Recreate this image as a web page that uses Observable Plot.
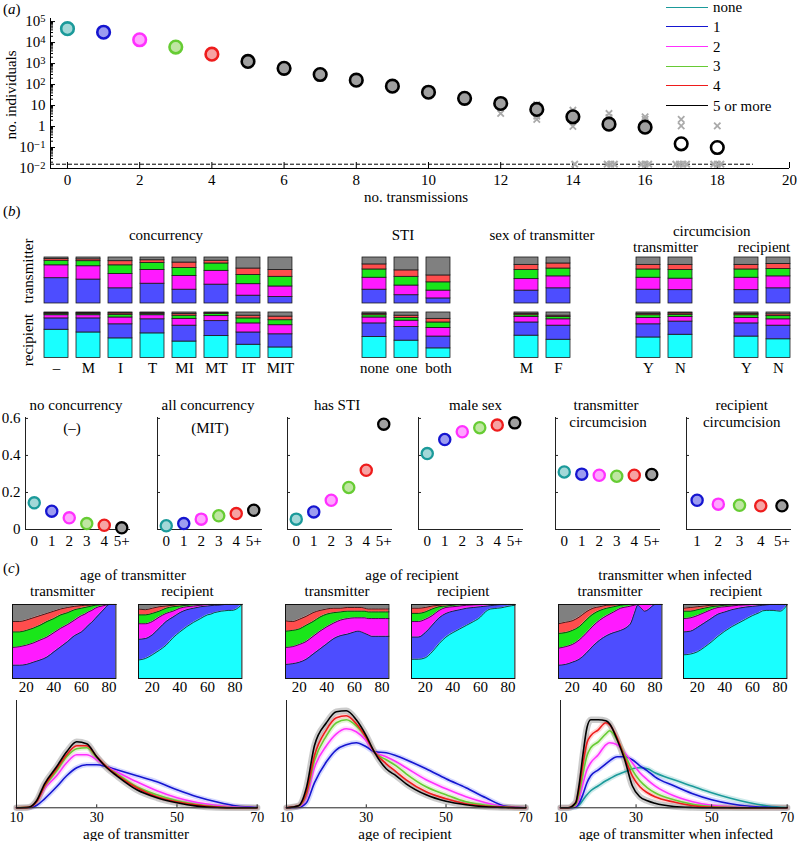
<!DOCTYPE html>
<html><head><meta charset="utf-8">
<script src="https://cdn.jsdelivr.net/npm/d3@7"></script>
<script src="https://cdn.jsdelivr.net/npm/@observablehq/plot@0.6"></script>
<style>
body{margin:0;background:#fff}
#fig{position:relative;width:797px;height:841px;overflow:hidden;font-family:"Liberation Serif","Times New Roman",serif;color:#000;background:#fff}
.t{position:absolute;white-space:nowrap;font-size:15px;line-height:1}
.lg{position:absolute;height:0;border-top:1.3px solid #000;width:42px}
</style></head>
<body><div id="fig"></div>
<script>
// ---------------- DATA ----------------
const catNames = ["none","1","2","3","4","5 or more"];
const lineColors = ["#1b9a9a","#1515d0","#ff30ff","#66cc33","#ee1c1c","#000000"];
const fillColors = ["#a3d8d8","#9c9cf0","#ffa6ff","#bfe6a2","#f6a3a3","#a0a0a0"];
const bandColors = ["#9fd8d8","#a9b2ff","#ffb3ff","#c5e9a8","#ffaaaa","#9a9a9a"];
const barColors  = ["#19ffff","#4d4dff","#ff1aff","#1ae61a","#ff4d4d","#808080"];
const stackCats  = ["none","1","2","3","4","5+"];

// (a)
const nTrans = [0,1,2,3,4,5,6,7,8,9,10,11,12,13,14,15,16,17,18];
const nIndividuals = [46000,31000,13600,6100,2800,1260,590,300,162,84,43,22,12.5,6.5,2.9,1.3,0.93,0.15,0.10];
const openMarkers = [17,18];
const repTrans = [12,13,13,13,14,14,15,15,16,16,17,17,18];
const repIndividuals = [4.2,11,3.1,2.2,6,1.0,4.2,2.7,2.9,2.2,2.2,1.07,1.07];
const zeroRepTrans = [14.05,14.95,15.05,15.15,15.9,16.0,16.1,16.85,16.95,17.05,17.15,17.9,18.0,18.1];
const floorLevel = 0.016, floorEnd = 19;
const aXDomain = [-0.47, 20];
const aYDomain = [0.01, 1.4e5];
const aXTicks = [0,2,4,6,8,10,12,14,16,18,20];
const aYDecades = [-2,-1,0,1,2,3,4,5];

// (b) bars
const concLabels = ["–","M","I","T","MI","MT","IT","MIT"];
const concTrans = [[.55,.28,.10,.04,.03],[.52,.29,.11,.04,.04],[.33,.31,.19,.09,.08],[.43,.30,.15,.06,.06],
  [.30,.30,.17,.12,.11],[.41,.30,.16,.06,.07],[.17,.25,.20,.14,.24],[.14,.23,.21,.15,.27]];
const concRecip = [[.62,.25,.07,.03,.015,.015],[.56,.31,.07,.03,.015,.015],[.43,.31,.15,.06,.03,.02],[.54,.31,.09,.03,.02,.01],
  [.36,.35,.15,.07,.04,.03],[.48,.33,.11,.05,.02,.01],[.29,.27,.20,.11,.06,.07],[.23,.29,.20,.11,.08,.09]];
const stiLabels = ["none","one","both"];
const stiTrans = [[.30,.26,.18,.11,.15],[.18,.21,.19,.14,.28],[.11,.17,.18,.15,.39]];
const stiRecip = [[.46,.30,.13,.05,.03,.03],[.38,.30,.14,.06,.05,.07],[.21,.26,.19,.12,.08,.14]];
const sexLabels = ["M","F"];
const sexTrans = [[.28,.25,.20,.11,.16],[.33,.26,.17,.11,.13]];
const sexRecip = [[.49,.29,.12,.04,.03,.03],[.40,.31,.14,.05,.03,.07]];
const circLabels = ["Y","N"];
const circTTrans = [[.30,.26,.18,.10,.16],[.29,.25,.19,.11,.16]];
const circTRecip = [[.45,.29,.14,.06,.03,.03],[.51,.29,.10,.05,.03,.02]];
const circRTrans = [[.29,.27,.18,.10,.16],[.33,.26,.16,.11,.14]];
const circRRecip = [[.47,.29,.12,.06,.03,.03],[.41,.30,.14,.07,.04,.04]];

// (b) small multiples
const sx0to5 = [0,1,2,3,4,5];
const sx1to5 = [1,2,3,4,5];
const sxLabels = ["0","1","2","3","4","5+"];
const noConcurrency  = [0.144,0.099,0.063,0.032,0.023,0.009];
const allConcurrency = [0.020,0.032,0.056,0.074,0.086,0.104];
const hasSTI         = [0.056,0.095,0.158,0.227,0.320,0.569];
const maleSex        = [0.410,0.486,0.528,0.550,0.564,0.576];
const transCirc      = [0.311,0.299,0.293,0.288,0.293,0.297];
const recipCirc      = [0.158,0.137,0.131,0.128,0.128];
const scYTicks = [0,0.2,0.4,0.6];

// (c) stacked proportions
const areaAges = [10,15,20,25,30,35,40,45,50,55,60,62.5,65,67.5,70,72.5,75,77.5,80,85];
const ageTransT = [
 [.18,.18,.19,.22,.25,.29,.36,.43,.50,.58,.63,.67,.72,.76,.81,.86,.91,.96,1,1],
 [.42,.43,.45,.48,.52,.56,.62,.68,.73,.79,.85,.87,.90,.92,.95,.97,.98,.99,1,1],
 [.63,.63,.65,.68,.72,.77,.81,.86,.89,.93,.95,.96,.97,.98,.99,.995,1,1,1,1],
 [.77,.77,.79,.82,.85,.88,.91,.94,.96,.975,.985,.99,.99,.995,1,1,1,1,1,1]];
const ageTransR = [
 [.25,.27,.32,.38,.45,.55,.63,.70,.76,.81,.86,.87,.89,.90,.91,.915,.92,.92,.93,1],
 [.53,.54,.59,.68,.77,.83,.89,.93,.95,.97,.98,.985,.99,.99,.995,1,1,1,1,1],
 [.74,.74,.77,.83,.88,.91,.95,.97,.98,.99,1,1,1,1,1,1,1,1,1,1],
 [.86,.86,.88,.91,.95,.97,.98,.99,1,1,1,1,1,1,1,1,1,1,1,1],
 [.94,.93,.95,.97,.98,.99,1,1,1,1,1,1,1,1,1,1,1,1,1,1]];
const ageRecT = [
 [.19,.20,.22,.26,.33,.40,.47,.54,.58,.60,.63,.64,.63,.61,.59,.57,.57,.57,.57,.57],
 [.42,.43,.46,.50,.57,.64,.70,.75,.79,.81,.82,.82,.82,.82,.81,.81,.81,.81,.81,.81],
 [.64,.65,.67,.72,.77,.83,.87,.89,.90,.91,.91,.91,.91,.91,.90,.90,.90,.90,.90,.90],
 [.78,.77,.80,.84,.89,.92,.94,.95,.95,.96,.96,.96,.96,.95,.94,.94,.94,.94,.94,.94]];
const ageRecR = [
 [.26,.26,.28,.36,.47,.56,.62,.67,.72,.77,.83,.88,.92,.94,.945,.95,.955,.965,.975,.99],
 [.56,.56,.62,.72,.82,.88,.91,.93,.95,.96,.97,.975,.98,.985,.99,.995,1,1,1,1],
 [.77,.77,.80,.85,.92,.96,.97,.98,.99,.995,1,1,1,1,1,1,1,1,1,1],
 [.88,.88,.90,.94,.97,.98,.99,1,1,1,1,1,1,1,1,1,1,1,1,1],
 [.95,.95,.96,.98,.99,1,1,1,1,1,1,1,1,1,1,1,1,1,1,1]];
const ageInfT = [
 [.18,.19,.22,.26,.34,.44,.52,.58,.62,.65,.70,.75,.88,.99,.95,.91,.93,.97,1,1],
 [.41,.43,.46,.52,.61,.71,.79,.85,.90,.95,.97,.98,.99,1,1,1,1,1,1,1],
 [.61,.62,.65,.70,.79,.87,.92,.95,.97,.99,1,1,1,1,1,1,1,1,1,1],
 [.74,.76,.78,.83,.90,.95,.97,.99,.995,1,1,1,1,1,1,1,1,1,1,1]];
const ageInfR = [
 [.32,.33,.36,.42,.49,.57,.64,.70,.75,.80,.85,.87,.89,.915,.92,.92,.92,.915,.91,.99],
 [.63,.64,.69,.75,.81,.87,.90,.93,.95,.965,.975,.98,.985,.99,.995,1,1,1,1,1],
 [.81,.82,.85,.89,.93,.96,.97,.98,.99,.995,1,1,1,1,1,1,1,1,1,1],
 [.91,.91,.93,.95,.97,.98,.99,.995,1,1,1,1,1,1,1,1,1,1,1,1],
 [.95,.96,.97,.98,.99,.995,1,1,1,1,1,1,1,1,1,1,1,1,1,1]];
const areaTicks = [20,40,60,80];

// (c) age distributions (relative density)
const densAgesT = [10,13,15,17,20,22.5,25,27.5,30,32.5,35,40,45,50,55,60,65,70];
const densTrans = [ null,
 [0,0,2.3,9,21,32,40,43,43,41,38,32,26,18,11,5.7,1.7,.3],
 [0,.3,5.7,19,32,45,53,53,48,41,36,26,17,10,5.3,2.3,.7,0],
 [0,.4,6,21,37,51,59,60,50,41,34,21,13,7,3.3,1,.2,0],
 [0,.4,6,22,39,53,62,62,51,41,33,20,11,6,2.7,.7,.1,0],
 [0,.5,7,24,41,56,66,64,51,40,32,18,10,5,1.7,.3,0,0]];
const densAgesR = [10,13,15,17,20,22.5,25,27.5,30,32,35,37.5,40,45,50,55,60,65,70];
const densRecip = [ null,
 [0,.5,5,25,46,58,63,65,61,56,55,52,48,39,29,20,10,1.5,0],
 [0,1,10,40,62,74,79,76,67,56,51,46,40,28,19,11,5,1,0],
 [0,1.5,13,47,72,85,88,82,70,56,48,42,34,21,13,6,2.5,.7,0],
 [0,2,15,52,78,90,92,84,70,56,44,36,28,16,9,4,1.5,.5,0],
 [0,2,20,62,85,96,97,88,72,56,39,32,24,13,6.5,3,1,.3,0]];
const densAgesI = [10,12,14,15,16,17,18,20,22,23,25,27,29,31,33,35,40,45,50,55,60,65,70];
const densInf = [
 [0,0,.5,3,8,13,17,22,27,29,33,36,39,40,39,35,28,21.5,15,9.5,5,1.8,.3],
 [0,0,1,5,14,25,32,38,44,47,51,51,48,42,37,31,22,14,8,4,1.5,.5,0],
 [0,0,2,10,25,38,45,53,63,65,63,55,45,35,28,22,12,6,2.5,1,.3,0,0],
 [0,0,3,15,35,52,60,66,74,77,68,53,38,27,20,15,8,3.5,1.2,.4,.1,0,0],
 [0,0,5,20,45,65,72,78,85,83,70,50,32,21,15,11,5.7,2,.7,.2,0,0,0],
 [0,0,5,25,55,80,88,88,87,84,68,48,22,11,7,4.5,1.3,.3,0,0,0,0,0]];
const densXDomain = [10,70];
const densYDomain = [0,107.3];
const densTicks = [10,30,50,70];

// ---------------- HELPERS ----------------
const fig = document.getElementById("fig");
const FONT = '"Liberation Serif","Times New Roman",serif';
const style = {fontFamily: FONT, fontSize: "14px", background: "none", overflow: "visible", color: "#000"};
function place(node, left, top) {
  node.style.position = "absolute"; node.style.left = left + "px"; node.style.top = top + "px";
  fig.appendChild(node); return node;
}
function txt(html, x, y, o = {}) {
  const d = document.createElement("div");
  d.className = "t"; d.innerHTML = html;
  d.style.left = x + "px"; d.style.top = y + "px";
  const tx = o.anchor === "start" ? "0" : o.anchor === "end" ? "-100%" : "-50%";
  d.style.transform = `translate(${tx},-50%)` + (o.rotate ? ` rotate(${o.rotate}deg)` : "");
  if (o.size) d.style.fontSize = o.size + "px";
  fig.appendChild(d);
}

// ---------------- (a) ----------------
{
  const W = 797, H = 205, ml = 50, mr = 8, mt = 18, mb = 37;
  const iw = W - ml - mr, ih = H - mt - mb;
  const majors = aYDecades.map(e => Math.pow(10, e));
  const minors = [];
  aYDecades.slice(0, -1).forEach(e => { for (let k = 2; k <= 9; k++) minors.push(k * Math.pow(10, e)); });
  const pts = nTrans.map((n, i) => {
    const c = Math.min(n, 5);
    return {n, v: nIndividuals[i], s: lineColors[c], f: openMarkers.includes(n) ? "#ffffff" : fillColors[c]};
  });
  const reps = repTrans.map((n, i) => ({n, v: repIndividuals[i]}));
  const svg = Plot.plot({
    width: W, height: H, marginLeft: ml, marginRight: mr, marginTop: mt, marginBottom: mb,
    style: {...style, fontSize: "15px"},
    x: {domain: aXDomain, label: null},
    y: {type: "log", domain: aYDomain, label: null},
    color: {type: "identity"},
    marks: [
      Plot.axisX({ticks: aXTicks, tickSize: 0, tickPadding: 6, label: null}),
      Plot.axisY({ticks: majors, tickSize: 0, tickPadding: 5, label: null,
        tickFormat: v => { const e = Math.round(Math.log10(v)); return e === 0 ? "1" : e === 1 ? "10" : "10^" + e; }}),
      Plot.tickY(majors, {insetRight: iw - 5, stroke: "#000"}),
      Plot.tickY(minors, {insetRight: iw - 3, stroke: "#000"}),
      Plot.tickX(aXTicks, {insetTop: ih - 6, stroke: "#000"}),
      Plot.ruleX([aXDomain[0]], {stroke: "#000"}),
      Plot.ruleY([aYDomain[0]], {stroke: "#000"}),
      Plot.ruleY([floorLevel], {x1: aXDomain[0], x2: floorEnd, stroke: "#000", strokeDasharray: "4,2"}),
      Plot.dot(zeroRepTrans, {x: d => d, y: () => floorLevel, symbol: "times", r: 3, stroke: "#aaaaaa", strokeWidth: 2}),
      Plot.dot(reps, {x: "n", y: "v", symbol: "times", r: 3, stroke: "#aaaaaa", strokeWidth: 1.8}),
      Plot.dot(pts, {x: "n", y: "v", r: 6.3, stroke: "s", fill: "f", strokeWidth: 2.6})
    ]
  });
  svg.querySelectorAll("text").forEach(t => {
    const s = t.textContent;
    if (s.includes("^")) {
      const [b, e] = s.split("^");
      t.textContent = b;
      const ts = document.createElementNS("http://www.w3.org/2000/svg", "tspan");
      ts.setAttribute("dy", "-0.45em"); ts.setAttribute("font-size", "10.5px");
      ts.textContent = e.replace("-", "\u2212");
      t.appendChild(ts);
    }
  });
  place(svg, 0, 0);
  txt("(<i>a</i>)", 3, 9, {anchor: "start"});
  txt("no. individuals", 11, 95, {rotate: -90});
  txt("no. transmissions", 416, 197);
  // legend
  const ly = [7.3, 26.9, 46.5, 66.3, 86, 105.7];
  catNames.forEach((c, i) => {
    const l = document.createElement("div"); l.className = "lg";
    l.style.left = "666px"; l.style.top = (ly[i] - 0.6) + "px"; l.style.borderTopColor = lineColors[i];
    fig.appendChild(l);
    txt(c, 713, ly[i], {anchor: "start"});
  });
}

// ---------------- (b) bars ----------------
function barRow(labels, fracs, left, top, h, showLabels) {
  const step = 32.4, pad = 0.26, n = labels.length;
  const w = step * (n - pad);
  const cats = fracs[0].length === 6 ? stackCats : stackCats.slice(1);
  const data = labels.flatMap((l, i) => fracs[i].map((v, j) => ({l, c: cats[j], v})));
  const mb = showLabels ? 22 : 0;
  const svg = Plot.plot({
    width: w, height: h + mb, marginLeft: 0, marginRight: 0, marginTop: 0, marginBottom: mb,
    style: {...style, fontSize: "15px"},
    x: {domain: labels, paddingInner: pad, paddingOuter: 0, axis: null, label: null},
    y: {domain: [0, 1], axis: null},
    color: {domain: stackCats, range: barColors},
    marks: [
      Plot.barY(data, {x: "l", y: "v", fill: "c", stroke: "#1a1a1a", strokeWidth: 0.8, offset: "normalize"}),
      showLabels ? Plot.axisX({tickSize: 0, tickPadding: 4, label: null}) : null
    ]
  });
  place(svg, left, top);
}
const tTop = 257.3, tH = 46, rTop = 312.3, rH = 45.4;
[[concLabels, concTrans, concRecip, 41.7], [stiLabels, stiTrans, stiRecip, 360.5], [sexLabels, sexTrans, sexRecip, 514.3],
 [circLabels, circTTrans, circTRecip, 635.7], [circLabels, circRTrans, circRRecip, 734.3]].forEach(([lab, tr, rc, x]) => {
  barRow(lab, tr, x, tTop, tH, false);
  barRow(lab, rc, x, rTop, rH, true);
});
txt("(<i>b</i>)", 3, 211, {anchor: "start"});
txt("concurrency", 166, 235);
txt("STI", 403, 235);
txt("sex of transmitter", 542, 235);
txt("circumcision", 711.7, 231);
txt("transmitter", 665.5, 247);
txt("recipient", 764, 247);
txt("transmitter", 27.5, 271, {rotate: -90});
txt("recipient", 27.5, 340, {rotate: -90});

// ---------------- (b) small multiples ----------------
function scatter(vals, xs, axisX, domain, showY) {
  const ml = showY ? 25 : 0, iw = 105, mr = 2, ih = 112, mb = 22;
  const pts = xs.map((x, i) => ({x, v: vals[i], s: lineColors[x], f: fillColors[x]}));
  const svg = Plot.plot({
    width: ml + iw + mr, height: ih + mb, marginLeft: ml, marginRight: mr, marginTop: 0, marginBottom: mb,
    style: {...style, fontSize: "15px"},
    x: {domain, label: null, axis: null},
    y: {domain: [0, 0.605], label: null, axis: null},
    color: {type: "identity"},
    marks: [
      Plot.ruleX([domain[0]], {stroke: "#222"}),
      Plot.ruleY([0], {stroke: "#222"}),
      Plot.tickY(scYTicks, {insetRight: iw - 3, stroke: "#222"}),
      Plot.axisX({ticks: xs, tickFormat: x => sxLabels[x], tickSize: 0, tickPadding: 6, label: null}),
      showY ? Plot.axisY({ticks: scYTicks, tickSize: 0, tickPadding: 5, label: null, tickFormat: v => v === 0 ? "0" : v.toFixed(1)}) : null,
      Plot.dot(pts, {x: "x", y: "v", r: 5.6, stroke: "s", fill: "f", strokeWidth: 2.3})
    ]
  });
  place(svg, axisX - ml, 417.3);
}
const dom05 = [-0.5, 5.5];
scatter(noConcurrency, sx0to5, 25, dom05, true);
scatter(allConcurrency, sx0to5, 157.3, dom05, false);
scatter(hasSTI, sx0to5, 287.3, dom05, false);
scatter(maleSex, sx0to5, 418.3, dom05, false);
scatter(transCirc, sx0to5, 555, dom05, false);
scatter(recipCirc, sx1to5, 685.7, [0.5, 5.45], false);
txt("no concurrency", 76, 405);
txt("(–)", 72, 428);
txt("all concurrency", 208, 405);
txt("(MIT)", 210, 428);
txt("has STI", 337, 405);
txt("male sex", 475.5, 405);
txt("transmitter", 606, 405);
txt("circumcision", 608, 422);
txt("recipient", 741.7, 405);
txt("circumcision", 741.7, 422);

// ---------------- (c) stacked areas ----------------
function areaPanel(tops, first, left) {
  const w = 103.4, h = 74, mb = 20;
  const rows = [], lines = [];
  const nL = tops.length + 1;
  for (let k = 0; k < nL; k++) areaAges.forEach((a, i) => rows.push({
    a, k, y1: k ? tops[k - 1][i] : 0, y2: k < tops.length ? tops[k][i] : 1, f: barColors[first + k]}));
  tops.forEach((t, k) => areaAges.forEach((a, i) => lines.push({a, k, y: t[i]})));
  const svg = Plot.plot({
    width: w, height: h + mb, marginLeft: 0, marginRight: 0, marginTop: 0, marginBottom: mb,
    style: {...style, fontSize: "15px"},
    x: {domain: [10, 85], label: null, axis: null},
    y: {domain: [0, 1], axis: null},
    color: {type: "identity"},
    marks: [
      Plot.areaY(rows, {x: "a", y1: "y1", y2: "y2", z: "k", fill: "f", curve: "monotone-x"}),
      Plot.line(lines, {x: "a", y: "y", z: "k", stroke: "#111", strokeWidth: 0.8, curve: "monotone-x"}),
      Plot.frame({stroke: "#111", strokeWidth: 1}),
      Plot.axisX({ticks: areaTicks, tickSize: 0, tickPadding: 3, label: null})
    ]
  });
  place(svg, left, 604);
}
areaPanel(ageTransT, 1, 12.3);
areaPanel(ageTransR, 0, 137.7);
areaPanel(ageRecT, 1, 285);
areaPanel(ageRecR, 0, 411);
areaPanel(ageInfT, 1, 557.7);
areaPanel(ageInfR, 0, 683.3);
txt("(<i>c</i>)", 3, 568, {anchor: "start"});
txt("age of transmitter", 133, 575);
txt("age of recipient", 412, 575);
txt("transmitter when infected", 675, 575);
txt("transmitter", 62.5, 591);
txt("recipient", 187.5, 591);
txt("transmitter", 337, 591);
txt("recipient", 463.3, 591);
txt("transmitter", 610, 591);
txt("recipient", 736, 591);

// ---------------- (c) age distributions ----------------
function densPanel(ages, series, axisX, iw) {
  const ih = 107.3, mb = 24;
  const bands = [], lines = [];
  series.forEach((s, c) => {
    if (!s) return;
    ages.forEach((a, i) => { bands.push({a, c, y: s[i], col: bandColors[c]}); lines.push({a, c, y: s[i], col: lineColors[c]}); });
  });
  const svg = Plot.plot({
    width: iw, height: ih + mb, marginLeft: 0, marginRight: 0, marginTop: 0, marginBottom: mb,
    style: {...style, fontSize: "14px"},
    x: {domain: densXDomain, label: null, axis: null},
    y: {domain: densYDomain, axis: null},
    color: {type: "identity"},
    marks: [
      Plot.line(bands, {x: "a", y: "y", z: "c", stroke: "col", strokeWidth: d => d.c === 5 ? 6.5 : 5, strokeOpacity: 0.5, curve: "monotone-x"}),
      Plot.line(lines, {x: "a", y: "y", z: "c", stroke: "col", strokeWidth: 1.6, curve: "monotone-x"}),
      Plot.ruleX([densXDomain[0]], {stroke: "#222"}),
      Plot.ruleY([densYDomain[0]], {stroke: "#222"}),
      Plot.tickX(densTicks, {insetTop: ih - 3, stroke: "#222"}),
      Plot.axisX({ticks: densTicks, tickSize: 0, tickPadding: 4, label: null})
    ]
  });
  place(svg, axisX, 700);
}
densPanel(densAgesT, densTrans, 16, 240.7);
densPanel(densAgesR, densRecip, 285.7, 239.3);
densPanel(densAgesI, densInf, 560, 226.7);
txt("age of transmitter", 136, 834);
txt("age of recipient", 405, 834);
txt("age of transmitter when infected", 676, 834);
</script></body></html>
